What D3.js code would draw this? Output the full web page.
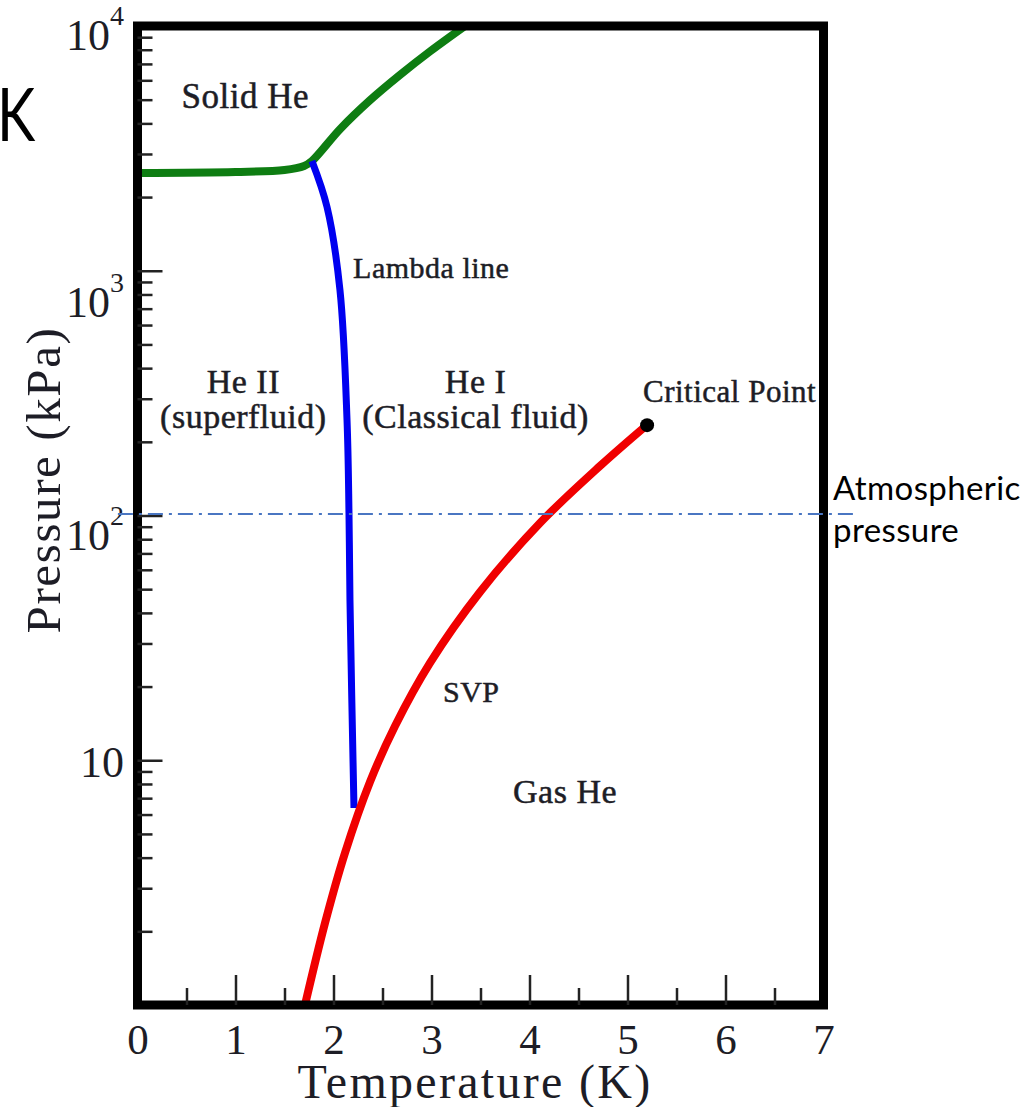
<!DOCTYPE html>
<html>
<head>
<meta charset="utf-8">
<script src="https://cdn.jsdelivr.net/npm/d3@7/dist/d3.min.js"></script>
<style>
    body { margin: 0; background: #fff; }
    svg { display: block; }
    .serif { font-family: "Liberation Serif", "Times New Roman", serif; fill: #1d1d26; }
    .label { stroke: #1d1d26; stroke-width: 0.5px; }
    .sans { font-family: Lato, "Open Sans", sans-serif; fill: #000; }
    .tick line { stroke: #222; stroke-width: 2.5; }
</style>
</head>
<body>
<script>
// axis ticks
const tempTicks = [0, 1, 2, 3, 4, 5, 6, 7];
const tempHalfTicks = [0.5, 1.5, 2.5, 3.5, 4.5, 5.5, 6.5];
const pressureTicks = [10, 100, 1000, 10000];
const pressureExponents = ["", "2", "3", "4"];

// melting curve (green), T in K, P in kPa
const meltT = [0, 1.0, 1.5, 1.7, 1.78, 2.066, 2.372, 2.679, 2.985, 3.342];
const meltP = [2508, 2532, 2580, 2679, 2808, 3788, 4971, 6312, 7873, 10000];

// lambda line (blue)
const lambdaT = [1.78, 1.934, 2.066, 2.138, 2.158, 2.168, 2.209];
const lambdaP = [2808, 1822, 834, 245.5, 102.4, 45.2, 6.38];

// saturated vapour pressure (red)
const svpT = [1.709, 1.913, 2.117, 2.372, 2.628, 2.985, 3.495, 4.107, 4.719, 5.199];
const svpP = [1.0, 2.16, 4.18, 8.15, 13.8, 25.0, 48.7, 93.2, 159.3, 234.4];

const criticalPoint = [5.2, 234];
const atmPressure = 101.325;

// region labels: text, T, P (baseline)
const labelText = ["Solid He", "Lambda line", "He II", "(superfluid)", "He I", "(Classical fluid)", "Critical Point", "SVP", "Gas He"];
const labelT = [1.10, 2.20, 1.08, 1.08, 3.45, 3.45, 5.158, 3.117, 3.832];
const labelP = [4624, 934, 316.7, 227.8, 316.7, 227.8, 290.9, 17.3, 6.69];

const zip = (a, b) => a.map((v, i) => [v, b[i]]);

function initSVG() {
    return d3.select("body")
        .append("svg")
        .attr("width", 1032)
        .attr("height", 1107);
}

function drawChart() {
    const svg = initSVG();

    const x = d3.scaleLinear().domain([0, 7]).range([137.5, 823.5]);
    const y = d3.scaleLog().domain([1, 10000]).range([1005, 26]);

    const line = d3.line()
        .x(d => x(d[0]))
        .y(d => y(d[1]))
        .curve(d3.curveCatmullRom.alpha(0.5));

    // phase boundaries
    svg.append("path").attr("d", line(zip(meltT, meltP)))
        .attr("fill", "none").attr("stroke", "#0e7d12").attr("stroke-width", 8);
    svg.append("path").attr("d", line(zip(lambdaT, lambdaP)))
        .attr("fill", "none").attr("stroke", "#0000f0").attr("stroke-width", 7);
    svg.append("path").attr("d", line(zip(svpT, svpP)))
        .attr("fill", "none").attr("stroke", "#f00000").attr("stroke-width", 8);

    svg.append("circle")
        .attr("cx", x(criticalPoint[0]))
        .attr("cy", y(criticalPoint[1]))
        .attr("r", 7)
        .attr("fill", "#000");

    // frame
    svg.append("rect")
        .attr("x", x(0)).attr("y", y(10000))
        .attr("width", x(7) - x(0)).attr("height", y(1) - y(10000))
        .attr("fill", "none").attr("stroke", "#000").attr("stroke-width", 9);

    // inner ticks, left
    const isDecade = v => Math.abs(Math.log10(v) - Math.round(Math.log10(v))) < 1e-9;
    const minor = y.ticks().filter(v => !isDecade(v));

    const leftMinor = svg.append("g")
        .attr("transform", `translate(${x(0)},0)`)
        .call(d3.axisRight(y).tickValues(minor).tickSize(15).tickFormat(""));
    leftMinor.select(".domain").remove();

    const leftMajor = svg.append("g")
        .attr("transform", `translate(${x(0)},0)`)
        .call(d3.axisRight(y).tickValues(pressureTicks.slice(0, -1)).tickSize(25).tickFormat(""));
    leftMajor.select(".domain").remove();

    // inner ticks, bottom
    const botMinor = svg.append("g")
        .attr("transform", `translate(0,${y(1)})`)
        .call(d3.axisTop(x).tickValues(tempHalfTicks).tickSize(17).tickFormat(""));
    botMinor.select(".domain").remove();

    const botMajor = svg.append("g")
        .attr("transform", `translate(0,${y(1)})`)
        .call(d3.axisTop(x).tickValues(tempTicks.slice(1, -1)).tickSize(30).tickFormat(""));
    botMajor.select(".domain").remove();

    // x tick labels
    const xLabels = svg.append("g")
        .attr("transform", `translate(0,${y(1)})`)
        .call(d3.axisBottom(x).tickValues(tempTicks).tickSize(0).tickPadding(18).tickFormat(d3.format("d")));
    xLabels.select(".domain").remove();
    xLabels.selectAll("text")
        .attr("class", "serif")
        .style("font-size", "43px");

    // y tick labels (10, 10^2, ...) - baseline nudges follow the original figure
    const labelNudge = [17, 34, 46, 24];
    pressureTicks.forEach((v, i) => {
        const t = svg.append("text")
            .attr("class", "serif")
            .attr("x", 124)
            .attr("y", y(v) + labelNudge[i])
            .attr("text-anchor", "end")
            .style("font-size", "44px");
        t.append("tspan").text("10");
        if (pressureExponents[i]) {
            t.append("tspan")
                .attr("dy", -25)
                .style("font-size", "28px")
                .text(pressureExponents[i]);
        }
    });

    // axis titles
    svg.append("text")
        .attr("class", "serif")
        .attr("x", 475).attr("y", 1098)
        .attr("text-anchor", "middle")
        .style("font-size", "48px")
        .style("letter-spacing", "2.3px")
        .text("Temperature (K)");

    svg.append("text")
        .attr("class", "serif")
        .attr("transform", "translate(60,480) rotate(-90)")
        .attr("text-anchor", "middle")
        .style("font-size", "49px")
        .style("letter-spacing", "1.6px")
        .text("Pressure (kPa)");

    // region labels
    const sizes = [35, 30, 34, 34, 34, 34, 31, 30, 34];
    const anchors = ["middle", "start", "middle", "middle", "middle", "middle", "start", "start", "start"];
    labelText.forEach((s, i) => {
        svg.append("text")
            .attr("class", "serif label")
            .attr("x", x(labelT[i]))
            .attr("y", y(labelP[i]))
            .attr("text-anchor", anchors[i])
            .style("font-size", sizes[i] + "px")
            .style("letter-spacing", "0.5px")
            .text(s);
    });

    // atmospheric pressure line
    svg.append("line")
        .attr("x1", x(-0.2)).attr("x2", x(7.3))
        .attr("y1", y(atmPressure)).attr("y2", y(atmPressure))
        .attr("stroke", "#4a76c2")
        .attr("stroke-width", 2)
        .attr("stroke-dasharray", "15,6,3,6");

    svg.append("text").attr("class", "sans")
        .attr("x", 833).attr("y", 500)
        .style("font-size", "33px")
        .style("letter-spacing", "0.4px")
        .text("Atmospheric");
    svg.append("text").attr("class", "sans")
        .attr("x", 833).attr("y", 542)
        .style("font-size", "33px")
        .style("letter-spacing", "0.4px")
        .text("pressure");

    // letter cut off at the left edge in the original slide
    svg.append("text").attr("class", "sans")
        .attr("transform", "translate(-3,141) scale(0.78,1)")
        .style("font-size", "74px")
        .text("K");
}

drawChart();
</script>
</body>
</html>
